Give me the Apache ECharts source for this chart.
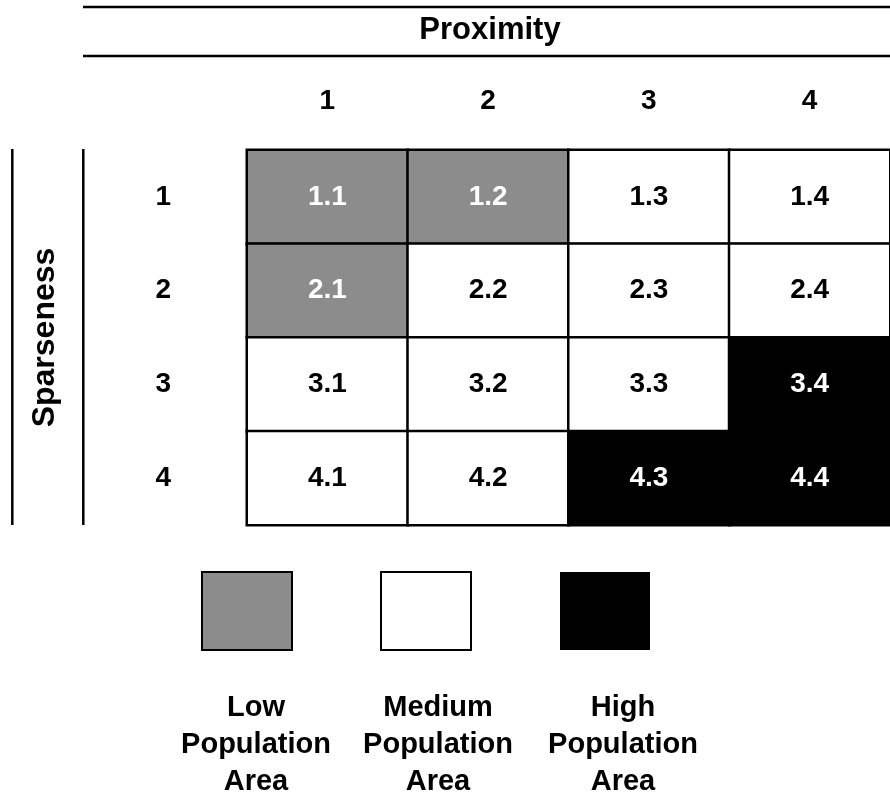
<!DOCTYPE html>
<html>
<head>
<meta charset="utf-8">
<script src="https://cdn.jsdelivr.net/npm/echarts@6/dist/echarts.min.js"></script>
<style>
html,body{margin:0;padding:0;background:#fff;}
#chart{width:890px;height:796px;}
</style>
</head>
<body>
<div id="chart"></div>
<script>
// ---- data ----
const proximityCats = ['1', '2', '3', '4'];
const sparsenessCats = ['1', '2', '3', '4'];
// population level per cell: rows = sparseness, cols = proximity (0 low, 1 medium, 2 high)
const row1Levels = [0, 0, 1, 1];
const row2Levels = [0, 1, 1, 1];
const row3Levels = [1, 1, 1, 2];
const row4Levels = [1, 1, 2, 2];
const levelRows = [row1Levels, row2Levels, row3Levels, row4Levels];
const levelNames = ['Low\nPopulation\nArea', 'Medium\nPopulation\nArea', 'High\nPopulation\nArea'];
const levelColors = ['#8c8c8c', '#ffffff', '#000000'];
const levelTextColors = ['#ffffff', '#000000', '#ffffff'];
const xTitle = 'Proximity';
const yTitle = 'Sparseness';

const FONT = '"Liberation Sans", Arial, Helvetica, sans-serif';

const cells = [];
levelRows.forEach((row, r) => {
  row.forEach((lvl, c) => {
    cells.push({
      value: [c, r, lvl],
      name: sparsenessCats[r] + '.' + proximityCats[c],
      itemStyle: { color: levelColors[lvl] },
      label: { color: levelTextColors[lvl] }
    });
  });
});

const chart = echarts.init(document.getElementById('chart'), null, { renderer: 'canvas' });

// legend graphics built from the level arrays
const legendGraphics = [];
const legendBoxLeft = 202, legendStep = 179, boxW = 90, boxH = 78, boxTop = 572;
const legendTextOffsets = [9, 12, 18];
levelNames.forEach((name, i) => {
  const x = legendBoxLeft + i * legendStep;
  legendGraphics.push({
    type: 'rect',
    shape: { x: x, y: boxTop, width: boxW, height: boxH },
    style: { fill: levelColors[i], stroke: '#000', lineWidth: i === 2 ? 0 : 2 },
    silent: true
  });
  legendGraphics.push({
    type: 'text',
    x: x + boxW / 2 + legendTextOffsets[i],
    y: 745,
    style: {
      text: name, fill: '#000', font: 'bold 29px ' + FONT,
      align: 'center', verticalAlign: 'middle', lineHeight: 37
    },
    silent: true
  });
});

const option = {
  backgroundColor: '#ffffff',
  animation: false,
  grid: { left: 247, top: 150, width: 652, height: 375 },
  xAxis: {
    type: 'category', position: 'top', data: proximityCats,
    axisLine: { show: false }, axisTick: { show: false }, splitLine: { show: false },
    axisLabel: { fontSize: 28, fontWeight: 'bold', color: '#000', fontFamily: FONT, margin: 35 }
  },
  yAxis: {
    type: 'category', inverse: true, data: sparsenessCats,
    axisLine: { show: false }, axisTick: { show: false }, splitLine: { show: false },
    axisLabel: { fontSize: 28, fontWeight: 'bold', color: '#000', fontFamily: FONT, margin: 76 },
    name: yTitle, nameLocation: 'middle', nameRotate: 90, nameGap: 186,
    nameTextStyle: { fontSize: 32, fontWeight: 'bold', color: '#000', fontFamily: FONT }
  },
  visualMap: {
    type: 'piecewise', show: false, dimension: 2,
    pieces: levelColors.map((col, i) => ({ value: i, color: col }))
  },
  series: [{
    type: 'heatmap',
    data: cells,
    itemStyle: { borderColor: '#000', borderWidth: 2.5 },
    label: {
      show: true, formatter: p => p.name,
      fontSize: 28, fontWeight: 'bold', fontFamily: FONT
    },
    emphasis: { disabled: true }
  }],
  graphic: [
    { type: 'line', shape: { x1: 83, y1: 7, x2: 890, y2: 7 }, style: { stroke: '#000', lineWidth: 2.5 }, silent: true },
    { type: 'line', shape: { x1: 83, y1: 56, x2: 890, y2: 56 }, style: { stroke: '#000', lineWidth: 2.5 }, silent: true },
    { type: 'line', shape: { x1: 12.3, y1: 149, x2: 12.3, y2: 525 }, style: { stroke: '#000', lineWidth: 2.5 }, silent: true },
    { type: 'line', shape: { x1: 83.3, y1: 149, x2: 83.3, y2: 525 }, style: { stroke: '#000', lineWidth: 2.5 }, silent: true },
    {
      type: 'text', x: 490, y: 30,
      style: { text: xTitle, fill: '#000', font: 'bold 31px ' + FONT, align: 'center', verticalAlign: 'middle' },
      silent: true
    }
  ].concat(legendGraphics)
};
chart.setOption(option);
</script>
</body>
</html>
